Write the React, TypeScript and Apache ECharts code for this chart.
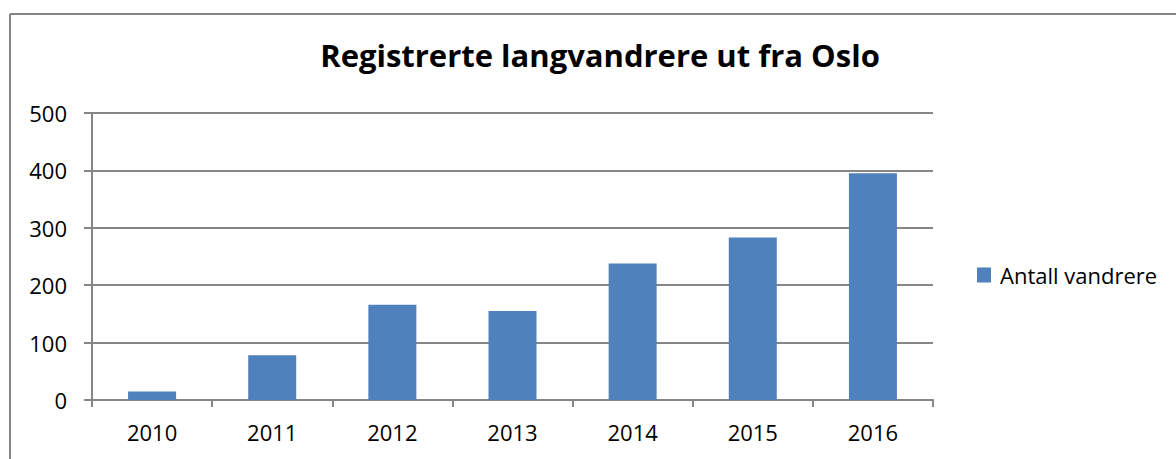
import React, { useEffect, useRef } from "react";
import * as echarts from "echarts";

const categories = ["2010", "2011", "2012", "2013", "2014", "2015", "2016"];
const seriesName = "Antall vandrere";
const values = [15, 78, 166, 155, 238, 283, 395];
const titleText = "Registrerte langvandrere ut fra Oslo";

export default function App() {
  const ref = useRef<HTMLDivElement>(null);
  useEffect(() => {
    document.body.style.margin = "0";
    const chart = echarts.init(ref.current!, null, { renderer: "svg" });
    const gray = "#868686";
    const font = "Open Sans";
    chart.setOption({
      animation: false,
      backgroundColor: "#ffffff",
      title: {
        text: titleText,
        left: 600,
        textAlign: "center",
        top: 39,
        padding: 0,
        textStyle: { fontFamily: font, fontWeight: "bold", fontSize: 31, color: "#000" },
      },
      legend: {
        data: [seriesName],
        left: 977,
        top: 264,
        orient: "vertical",
        icon: "rect",
        itemWidth: 14,
        itemHeight: 15,
        padding: 0,
        textStyle: { fontFamily: font, fontSize: 22, color: "#000", padding: [0, 0, 0, 4] },
      },
      grid: { left: 92, right: 243, top: 113, bottom: 59, containLabel: false, outerBoundsMode: "none" },
      xAxis: {
        type: "category",
        data: categories,
        axisLine: { show: true, lineStyle: { color: gray, width: 2 } },
        axisTick: { show: true, length: 7, lineStyle: { color: gray, width: 2 }, alignWithLabel: false },
        axisLabel: { fontFamily: font, fontSize: 22, color: "#000", margin: 21 },
        splitLine: { show: false },
      },
      yAxis: {
        type: "value",
        min: 0,
        max: 500,
        interval: 100,
        axisLine: { show: true, lineStyle: { color: gray, width: 2 } },
        axisTick: { show: true, length: 8, lineStyle: { color: gray, width: 2 } },
        axisLabel: { fontFamily: font, fontSize: 22, color: "#000", margin: 25 },
        splitLine: { show: true, lineStyle: { color: gray, width: 2 } },
      },
      series: [
        {
          name: seriesName,
          type: "bar",
          data: values,
          barWidth: 48,
          itemStyle: { color: "#4F81BD" },
        },
      ],
      graphic: [
        { type: "line", shape: { x1: 10, y1: 14, x2: 1176, y2: 14 }, style: { stroke: gray, lineWidth: 2 } },
        { type: "line", shape: { x1: 10, y1: 14, x2: 10, y2: 459 }, style: { stroke: gray, lineWidth: 2 } },
      ],
    });
    return () => chart.dispose();
  }, []);
  return <div ref={ref} style={{ width: 1176, height: 459, position: "absolute", left: 0, top: 0 }} />;
}
